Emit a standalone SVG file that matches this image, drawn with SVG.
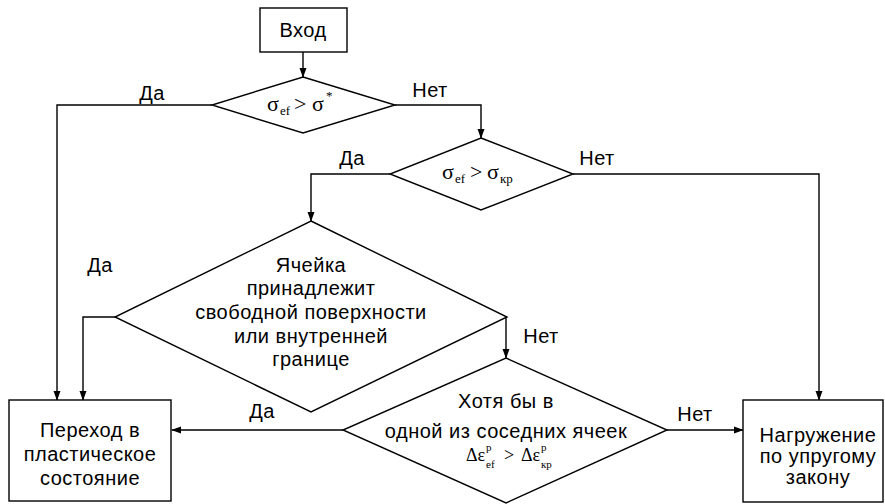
<svg xmlns="http://www.w3.org/2000/svg" width="885" height="504" viewBox="0 0 885 504">
<defs>
<marker id="arr" markerUnits="userSpaceOnUse" markerWidth="10" markerHeight="14" refX="13" refY="5" viewBox="0 0 14 10" orient="auto">
<path d="M0,0 L14,5 L0,10 Z" fill="#000"/>
</marker>
<style>
.shape{fill:#fff;stroke:#000;stroke-width:1.4}
.line{fill:none;stroke:#000;stroke-width:1.4;marker-end:url(#arr)}
.t{font-family:"Liberation Sans",Arial,sans-serif;font-size:20px;letter-spacing:0.5px;fill:#000;text-anchor:middle}
.m{font-family:"Liberation Serif","Times New Roman",serif;font-size:22px;fill:#000}
.s{font-family:"Liberation Serif","Times New Roman",serif;font-size:13px;fill:#000}
.f{font-family:"Liberation Serif","Times New Roman",serif;font-size:18px;fill:#000}
.fs{font-family:"Liberation Serif","Times New Roman",serif;font-size:11px;fill:#000}
</style>
</defs>
<g id="connectors">
<path class="line" d="M303,52 L303,77"/>
<path class="line" d="M212,105 L57,105 L57,400"/>
<path class="line" d="M395,105 L481,105 L481,138"/>
<path class="line" d="M390,174 L311,174 L311,221"/>
<path class="line" d="M573,174 L819,174 L819,400"/>
<path class="line" d="M115,317 L83,317 L83,400"/>
<path class="line" d="M506,317 L506,358"/>
<path class="line" d="M343,430 L172,430"/>
<path class="line" d="M667,430 L743,430"/>
<text class="t" x="152" y="100">Да</text>
<text class="t" x="430" y="97">Нет</text>
<text class="t" x="352" y="165">Да</text>
<text class="t" x="597" y="165">Нет</text>
<text class="t" x="100" y="272">Да</text>
<text class="t" x="541" y="343">Нет</text>
<text class="t" x="262" y="418">Да</text>
<text class="t" x="695" y="421">Нет</text>
</g>
<g id="start">
<rect class="shape" x="260" y="8" width="87" height="44"/>
<text class="t" x="303" y="37">Вход</text>
</g>
<g id="cond1">
<polygon class="shape" points="303,77 395,105 303,133 212,105"/>
<text class="m" x="267" y="111">σ</text>
<text class="s" x="280" y="115">ef</text>
<text class="m" x="294" y="111">&gt;</text>
<text class="m" x="312" y="111">σ</text>
<text class="s" x="326" y="100">*</text>
</g>
<g id="cond2">
<polygon class="shape" points="481,138 573,174 481,210 390,174"/>
<text class="m" x="442" y="179">σ</text>
<text class="s" x="455" y="183">ef</text>
<text class="m" x="470" y="179">&gt;</text>
<text class="m" x="487" y="179">σ</text>
<text class="s" x="500" y="183">кр</text>
</g>
<g id="cond3">
<polygon class="shape" points="311,221 507,317 311,412 115,317"/>
<text class="t" x="311" y="272">Ячейка</text>
<text class="t" x="311" y="295">принадлежит</text>
<text class="t" x="311" y="319">свободной поверхности</text>
<text class="t" x="311" y="343">или внутренней</text>
<text class="t" x="311" y="366">границе</text>
</g>
<g id="cond4">
<polygon class="shape" points="506,358 667,430 506,503 343,430"/>
<text class="t" x="506" y="408">Хотя бы в</text>
<text class="t" x="506" y="438">одной из соседних ячеек</text>
<text class="f" x="466" y="461">Δε</text>
<text class="fs" x="486" y="451">p</text>
<text class="fs" x="486" y="468">ef</text>
<text class="f" x="504" y="461">&gt;</text>
<text class="f" x="521" y="461">Δε</text>
<text class="fs" x="541" y="451">p</text>
<text class="fs" x="541" y="468">кр</text>
</g>
<g id="plastic">
<rect class="shape" x="9" y="400" width="162" height="101"/>
<text class="t" x="90" y="437">Переход в</text>
<text class="t" x="90" y="461">пластическое</text>
<text class="t" x="90" y="485">состояние</text>
</g>
<g id="elastic">
<rect class="shape" x="743" y="400" width="140" height="102"/>
<text class="t" x="818" y="442">Нагружение</text>
<text class="t" x="818" y="463">по упругому</text>
<text class="t" x="818" y="484">закону</text>
</g>
</svg>
